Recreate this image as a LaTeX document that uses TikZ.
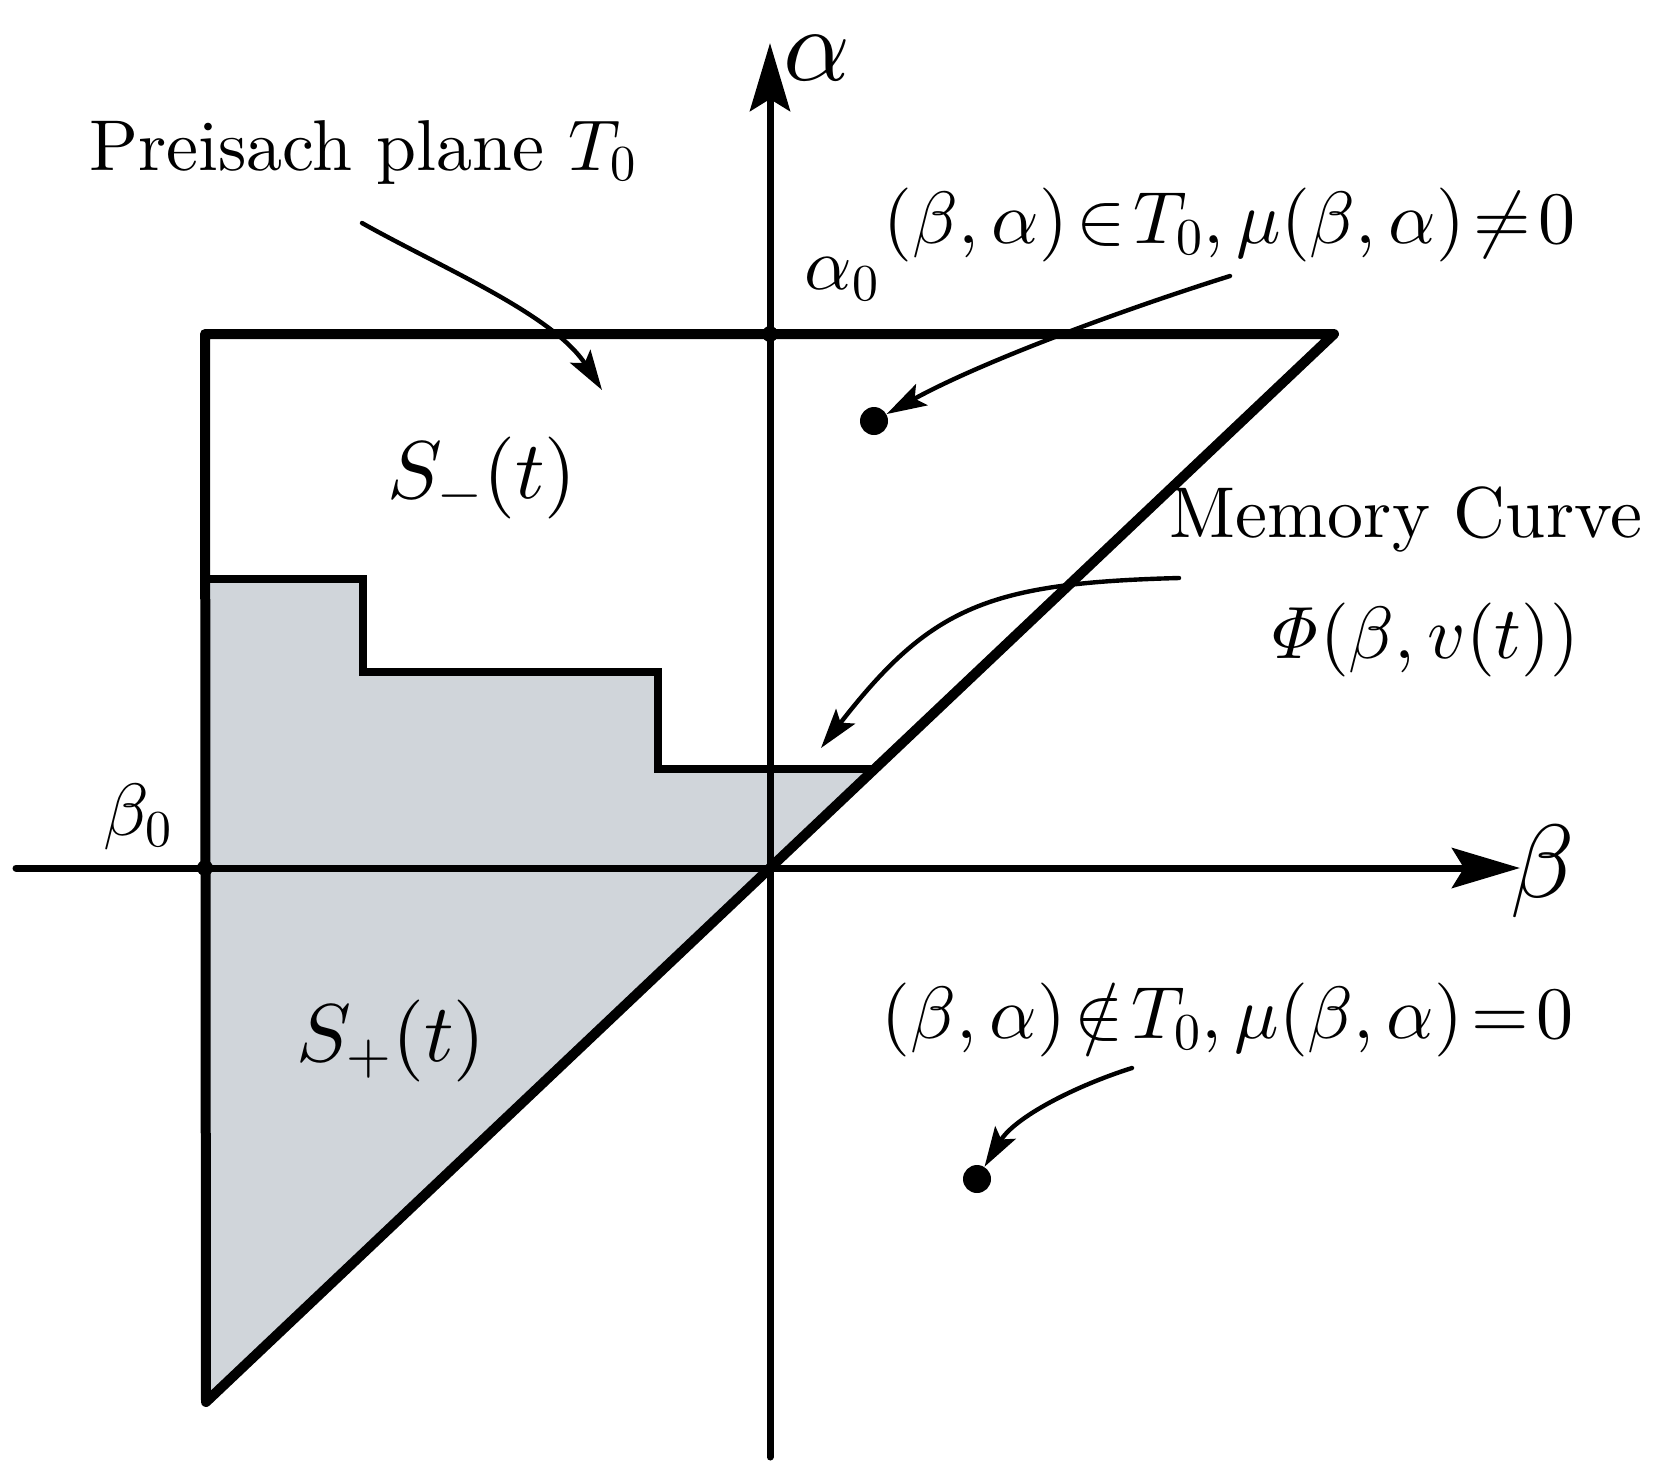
\RequirePackage{fix-cm}
\documentclass[tikz,border=0pt]{standalone}
\usetikzlibrary{arrows.meta}
\DeclareFontFamily{TU}{lmten}{}
\DeclareFontShape{TU}{lmten}{m}{n}{<-> "[lmroman10-regular]:mapping=tex-text"}{}
\DeclareFontShape{OML}{cmm}{m}{it}{<-> cmmi10}{}
\DeclareFontShape{OMS}{cmsy}{m}{n}{<-> cmsy10}{}
\DeclareFontShape{OT1}{cmr}{m}{n}{<-> cmr10}{}
\DeclareFontShape{OT1}{cmr}{m}{it}{<-> cmti10}{}
\definecolor{regiongray}{HTML}{D0D5DA}
\tikzset{
  lbl/.style={inner sep=0pt, font=\fontfamily{lmten}\fontsize{36}{43}\selectfont},
  mathlbl/.style={inner sep=0pt, font=\fontsize{37}{44}\selectfont},
  reglbl/.style={inner sep=0pt, font=\fontsize{41}{49}\selectfont},
  axlbl/.style={inner sep=0pt, font=\fontsize{52}{62}\selectfont},
  axisline/.style={line width=3.5pt, line cap=round, -{Stealth[length=34pt,width=20pt,inset=6pt]}},
  boundary/.style={line width=5pt, line join=round},
  stair/.style={line width=4pt},
  pointer/.style={line width=2.2pt, line cap=round, -{Stealth[length=20pt,width=12pt,inset=4pt]}},
  bigdot/.style={circle, fill, inner sep=0pt, minimum size=14pt},
  smalldot/.style={circle, fill, inner sep=0pt, minimum size=8pt},
}
\begin{document}
\begin{tikzpicture}[x=0.5pt,y=-0.5pt]
\useasboundingbox (0,0) rectangle (1656,1469);
% key points
\coordinate (TL) at (205,334);
\coordinate (TR) at (1334,334);
\coordinate (BL) at (206,1402);
\coordinate (O) at (770,868);
\coordinate (s0) at (205,579);
\coordinate (s1) at (363,579);
\coordinate (s2) at (363,672);
\coordinate (s3) at (658,672);
\coordinate (s4) at (658,769);
\coordinate (s5) at (874.6,769);
% shaded region
\fill[regiongray] (s0) -- (s1) -- (s2) -- (s3) -- (s4) -- (s5) -- (BL) -- cycle;
% axes
\coordinate (ab) at (770,1457);
\coordinate (at) at (770,43);
\coordinate (bl) at (16,868);
\coordinate (br) at (1520,868);
\draw[axisline] (ab) -- (at);
\draw[axisline] (bl) -- (br);
% Preisach triangle
\draw[boundary] (TL) -- (TR) -- (BL) -- cycle;
% memory curve
\draw[stair] (s0) -- (s1) -- (s2) -- (s3) -- (s4) -- (s5);
% dots
\node[smalldot] (adot) at (770,334) {};
\node[smalldot] (bdot) at (205,868) {};
\node[bigdot] (pin) at (874,421) {};
\node[bigdot] (pout) at (977,1179) {};
% labels
\node[axlbl] (alab) at (817,58) {$\alpha$};
\node[axlbl] (blab) at (1543,871) {$\beta$};
\node[lbl, anchor=base] (plane) at (363,170) {Preisach plane $T_0$};
\node[mathlbl] (a0) at (842,279) {$\alpha_0$};
\node[mathlbl] (b0) at (138,817) {$\beta_0$};
\node[mathlbl] (inT) at (1230,225) {$(\beta,\alpha)\!\in\! T_0,\mu(\beta,\alpha)\!\neq\! 0$};
\node[mathlbl] (outT) at (1228,1020) {$(\beta,\alpha)\!\notin\! T_0,\mu(\beta,\alpha)\!=\! 0$};
\node[lbl, anchor=base] (mem) at (1406,537) {Memory Curve};
\node[mathlbl] (phi) at (1421,640) {$\mathit{\Phi}(\beta,v(t))$};
\node[reglbl] (sm) at (482,478) {$S_-(t)$};
\node[reglbl] (sp) at (391,1041) {$S_+(t)$};
% pointers
\coordinate (p1s) at (362,223);
\coordinate (p1e) at (602,390);
\draw[pointer] (p1s) .. controls (440,267) and (553,314) .. (p1e);
\coordinate (p2s) at (1230,276);
\draw[pointer] (p2s) .. controls (1125,309) and (983,361) .. (pin);
\coordinate (p3s) at (1179,578);
\coordinate (p3e) at (821,748);
\draw[pointer] (p3s) .. controls (989,583) and (931,606) .. (p3e);
\coordinate (p4s) at (1132,1068);
\draw[pointer] (p4s) .. controls (1075,1086) and (1015,1117) .. (pout);
\end{tikzpicture}
\end{document}
